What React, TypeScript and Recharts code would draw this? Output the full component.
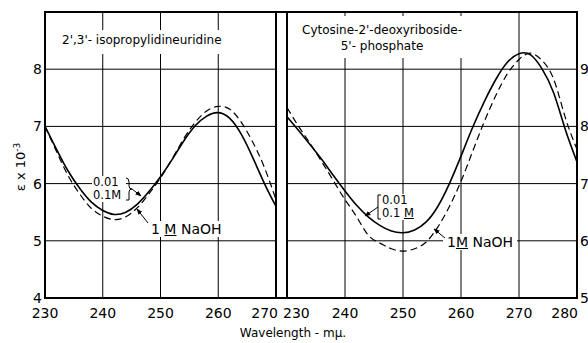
import React from "react";
import { LineChart, Line, XAxis, YAxis, CartesianGrid } from "recharts";

// left panel: 2',3'-isopropylidineuridine
const leftWavelengths = [230, 232, 234, 236, 238, 240, 242, 244, 246, 248, 250, 252, 254, 256, 258, 260, 262, 264, 266, 268, 270];
const leftLowNaOH = [7.0, 6.6, 6.22, 5.92, 5.68, 5.53, 5.46, 5.5, 5.64, 5.86, 6.12, 6.42, 6.74, 7.01, 7.18, 7.24, 7.14, 6.86, 6.45, 6.0, 5.6];
const leftOneMolar = [7.0, 6.56, 6.14, 5.82, 5.57, 5.43, 5.37, 5.42, 5.58, 5.82, 6.1, 6.43, 6.78, 7.07, 7.27, 7.35, 7.3, 7.07, 6.72, 6.28, 5.72];
const leftXTicks = [230, 240, 250, 260, 270];
const leftYTicks = [4, 5, 6, 7, 8];

// right panel: cytosine-2'-deoxyriboside-5'-phosphate
const rightWavelengths = [230, 232, 234, 236, 238, 240, 242, 244, 246, 248, 250, 252, 254, 256, 258, 260, 262, 264, 266, 268, 270, 272, 274, 276, 278, 280];
const rightLowNaOH = [8.17, 7.93, 7.68, 7.42, 7.14, 6.87, 6.62, 6.42, 6.27, 6.17, 6.14, 6.19, 6.33, 6.6, 7.0, 7.48, 7.98, 8.43, 8.82, 9.12, 9.27, 9.25, 9.0, 8.58, 7.94, 7.38];
const rightOneMolar = [8.33, 8.0, 7.7, 7.38, 7.05, 6.72, 6.42, 6.1, 5.96, 5.86, 5.82, 5.86, 5.98, 6.24, 6.6, 7.04, 7.56, 8.08, 8.54, 8.92, 9.17, 9.28, 9.15, 8.82, 8.15, 7.6];
const rightXTicks = [230, 240, 250, 260, 270, 280];
const rightYTicks = [5, 6, 7, 8, 9];

const FONT = "DejaVu Sans";

const leftData = leftWavelengths.map((w, i) => ({ w, low: leftLowNaOH[i], high: leftOneMolar[i] }));
const rightData = rightWavelengths.map((w, i) => ({ w, low: rightLowNaOH[i], high: rightOneMolar[i] }));

const XTick = (props: any) => {
  const { x, y, payload, side } = props;
  let anchor = "middle";
  let dx = 0;
  if (side === "left" && payload.value === 270) {
    anchor = "end";
    dx = 2;
  }
  if (side === "right" && payload.value === 230) {
    anchor = "start";
    dx = -4;
  }
  if (side === "right" && payload.value === 280) {
    anchor = "end";
    dx = 1;
  }
  return (
    <text x={x + dx} y={y} dy={20} textAnchor={anchor} fill="#000" fontSize={14} fontFamily={FONT}>
      {payload.value}
    </text>
  );
};

const textBox = (style: React.CSSProperties): React.CSSProperties => ({
  position: "absolute",
  fontFamily: FONT,
  color: "#000",
  background: "#fff",
  whiteSpace: "nowrap",
  lineHeight: 1,
  ...style,
});

export default function App() {
  return (
    <div style={{ position: "absolute", left: 0, top: 0, width: 588, height: 343, background: "#fff", overflow: "hidden" }}>
      <div style={{ position: "absolute", left: 0, top: 0 }}>
        <LineChart width={280} height={343} data={leftData} margin={{ top: 12, right: 4, bottom: 15, left: 10 }}>
          <CartesianGrid stroke="#000" strokeWidth={1} />
          <XAxis
            dataKey="w"
            type="number"
            domain={[230, 270]}
            ticks={leftXTicks}
            height={30}
            tickLine={false}
            axisLine={false}
            tickSize={0}
            tickMargin={0}
            interval={0}
            tick={(p: any) => <XTick {...p} side="left" />}
          />
          <YAxis
            type="number"
            domain={[4, 9]}
            ticks={leftYTicks}
            width={35}
            tickLine={false}
            axisLine={false}
            tickSize={3}
            tickMargin={0}
            interval={0}
            tick={{ fill: "#000", fontSize: 14, fontFamily: FONT }}
          />
          <Line type="natural" dataKey="low" stroke="#000" strokeWidth={1.6} dot={false} isAnimationActive={false} />
          <Line type="natural" dataKey="high" stroke="#000" strokeWidth={1.2} strokeDasharray="7 4" dot={false} isAnimationActive={false} />
        </LineChart>
      </div>
      <div style={{ position: "absolute", left: 280, top: 0 }}>
        <LineChart width={308} height={343} data={rightData} margin={{ top: 12, right: 0, bottom: 15, left: 7 }}>
          <CartesianGrid stroke="#000" strokeWidth={1} />
          <XAxis
            dataKey="w"
            type="number"
            domain={[230, 280]}
            ticks={rightXTicks}
            height={30}
            tickLine={false}
            axisLine={false}
            tickSize={0}
            tickMargin={0}
            interval={0}
            tick={(p: any) => <XTick {...p} side="right" />}
          />
          <YAxis
            orientation="right"
            type="number"
            domain={[5, 10]}
            ticks={rightYTicks}
            width={11}
            tickLine={false}
            axisLine={false}
            tickSize={3}
            tickMargin={0}
            interval={0}
            tick={{ fill: "#000", fontSize: 14, fontFamily: FONT, textAnchor: "start" }}
          />
          <Line type="natural" dataKey="low" stroke="#000" strokeWidth={1.6} dot={false} isAnimationActive={false} />
          <Line type="natural" dataKey="high" stroke="#000" strokeWidth={1.2} strokeDasharray="7 4" dot={false} isAnimationActive={false} />
        </LineChart>
      </div>

      {/* frame */}
      <div style={{ position: "absolute", left: 44, top: 11, width: 534, height: 288, border: "2px solid #000", boxSizing: "border-box" }} />
      <div style={{ position: "absolute", left: 275, top: 11, width: 2, height: 288, background: "#000" }} />
      <div style={{ position: "absolute", left: 286, top: 11, width: 2, height: 288, background: "#000" }} />

      {/* titles */}
      <div style={textBox({ left: 56, top: 30, fontSize: 12, padding: "4px 6px 8px 6px" })}>2',3'- isopropylidineuridine</div>
      <div style={textBox({ left: 296, top: 16, fontSize: 12, padding: "6px 6px 4px 6px", textAlign: "center", lineHeight: "16px" })}>
        Cytosine-2'-deoxyriboside-
        <br />
        5'- phosphate
      </div>

      {/* axis labels */}
      <div style={textBox({ left: 20, top: 167, fontSize: 13, transform: "translate(-50%, -50%) rotate(-90deg)", background: "transparent" })}>
        ε x 10<sup style={{ fontSize: 9 }}>-3</sup>
      </div>
      <div style={textBox({ left: 293, top: 327, fontSize: 12, transform: "translateX(-50%)", background: "transparent" })}>Wavelength - mμ.</div>

      {/* annotations, left panel */}
      <div style={textBox({ left: 92, top: 176, width: 34, height: 26 })} />
      <div style={textBox({ left: 93, top: 177, fontSize: 11.5, background: "transparent" })}>0.01</div>
      <div style={textBox({ left: 93, top: 190, fontSize: 11.5, background: "transparent" })}>0.1M</div>
      <div style={textBox({ left: 149, top: 221, fontSize: 14, padding: "1px 2px" })}>
        1 <span style={{ textDecoration: "underline" }}>M</span> NaOH
      </div>

      {/* annotations, right panel */}
      <div style={textBox({ left: 381, top: 194, width: 36, height: 26 })} />
      <div style={textBox({ left: 382, top: 195, fontSize: 11.5, background: "transparent" })}>0.01</div>
      <div style={textBox({ left: 382, top: 208, fontSize: 11.5, background: "transparent" })}>
        0.1 <span style={{ textDecoration: "underline" }}>M</span>
      </div>
      <div style={textBox({ left: 443, top: 234, fontSize: 14, padding: "1px 4px" })}>
        1<span style={{ textDecoration: "underline" }}>M</span> NaOH
      </div>

      <svg width={588} height={343} style={{ position: "absolute", left: 0, top: 0, pointerEvents: "none" }}>
        <defs>
          <marker id="arr" viewBox="0 0 10 10" refX="9" refY="5" markerWidth="6" markerHeight="6" orient="auto-start-reverse">
            <path d="M0,1 L10,5 L0,9 z" fill="#000" />
          </marker>
        </defs>
        {/* left brackets and arrows */}
        <path d="M126,178 Q129,178 129,182 L129,186 Q129,189 132,189 Q129,189 129,192 L129,200 L126,200" fill="none" stroke="#000" strokeWidth={1} />
        <line x1={132} y1={189} x2={141} y2={196} stroke="#000" strokeWidth={1} markerEnd="url(#arr)" />
        <line x1={148} y1={223} x2={137} y2={209} stroke="#000" strokeWidth={1} markerEnd="url(#arr)" />
        {/* right brackets and arrows */}
        <path d="M381,195 L378,195 L378,219 L381,219" fill="none" stroke="#000" strokeWidth={1} />
        <line x1={378} y1={207} x2={365} y2={216} stroke="#000" strokeWidth={1} markerEnd="url(#arr)" />
        <line x1={445} y1={238} x2={434} y2={229} stroke="#000" strokeWidth={1} markerEnd="url(#arr)" />
      </svg>
    </div>
  );
}
